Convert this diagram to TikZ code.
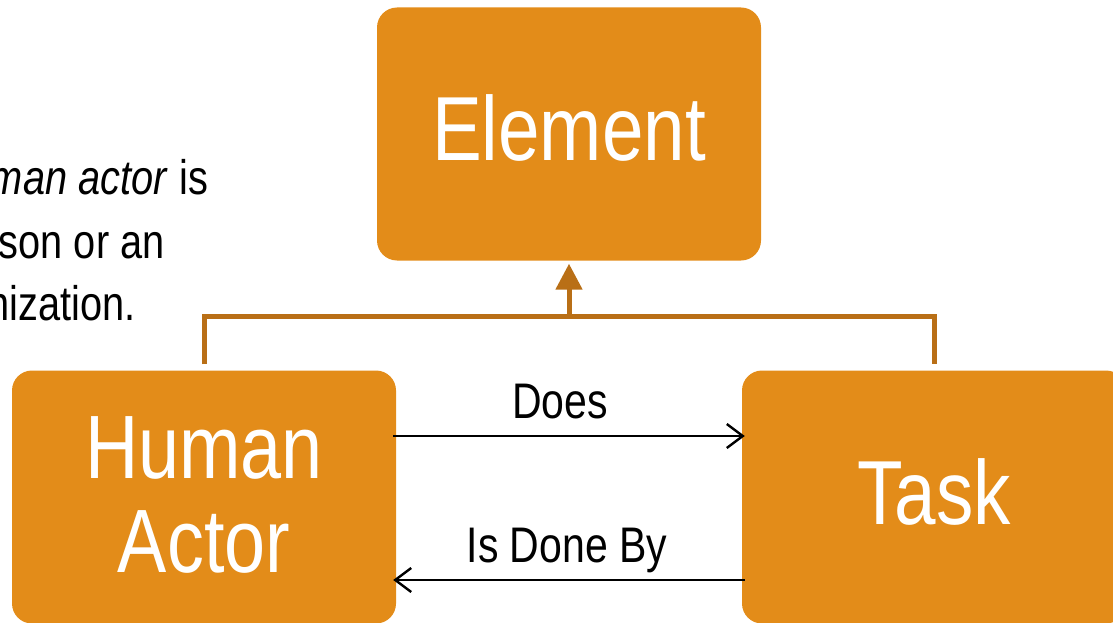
\documentclass[tikz,border=0pt]{standalone}
\usepackage{fontspec}
\setmainfont[FakeStretch=0.82]{Liberation Sans}
\usetikzlibrary{arrows.meta}
\definecolor{boxfill}{HTML}{E38C19}
\definecolor{linkbrown}{HTML}{B96F16}
\tikzset{
  every node/.style={font=\normalfont},
  conceptbox/.style={fill=boxfill, rounded corners=20pt, minimum width=384pt,
    minimum height=253pt, inner sep=0pt, text=white, align=center},
  bigtext/.style={font=\fontsize{91}{94}\selectfont},
  hierarchy/.style={draw=linkbrown, line width=5pt},
  relation/.style={draw=black, line width=2.4pt, -{Straight Barb[length=16pt,width=24pt,line width=2.4pt]}},
  rellabel/.style={font=\fontsize{50}{50}\selectfont, inner sep=0pt, anchor=base},
  introline/.style={font=\fontsize{48.5}{48.5}\selectfont, inner sep=0pt, anchor=base west}
}
\begin{document}
\begin{tikzpicture}[x=1pt, y=-1pt]
  \useasboundingbox (0,0) rectangle (1113,623);
  \clip (0,0) rectangle (1113,623);

  % definition text at the left
  \node[introline] (intro1) at (-92,194) {A \textit{human actor} is};
  \node[introline] (intro2) at (-92,258) {a person or an};
  \node[introline] (intro3) at (-92,320) {organization.};

  % concept boxes
  \node[conceptbox, bigtext, text depth=13pt] (el) at (569,134) {Element};
  \node[conceptbox, font=\fontsize{90}{94}\selectfont, text depth=4pt] (ha) at (204,497) {Human\\Actor};
  \node[conceptbox, bigtext, text depth=10pt] (task) at (934,497) {Task};

  % generalisation: both specialise Element
  \coordinate (junc) at (569,316);
  \draw[hierarchy] ([yshift=6pt]ha.north) |- (junc) -| ([yshift=6pt]task.north);
  \draw[hierarchy, -{Triangle[length=26pt,width=26pt]}] (junc) -- ([yshift=-3pt]el.south);

  % relations between actor and task
  \draw[relation] ([xshift=-3pt,yshift=61pt]ha.east) -- ([xshift=3pt,yshift=61pt]task.west);
  \draw[relation] ([xshift=3pt,yshift=-83pt]task.west) -- ([xshift=-3pt,yshift=-83pt]ha.east);
  \node[rellabel] (does) at (560,418) {Does};
  \node[rellabel] (doneby) at (567,562) {Is Done By};
\end{tikzpicture}
\end{document}
